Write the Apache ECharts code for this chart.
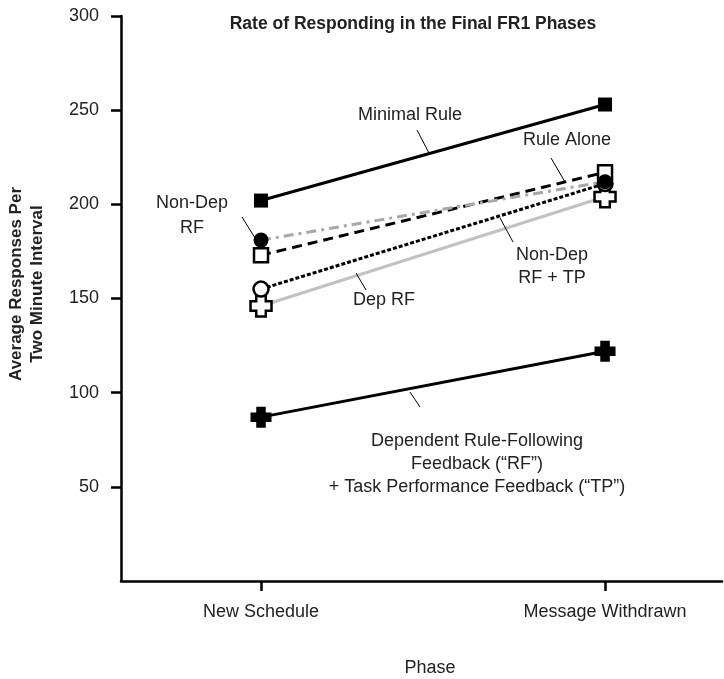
<!DOCTYPE html>
<html>
<head>
<meta charset="utf-8">
<script src="https://cdn.jsdelivr.net/npm/echarts@6/dist/echarts.min.js"></script>
<style>
  html, body { margin: 0; padding: 0; background: #fff; }
  #chart { width: 724px; height: 679px; }
</style>
</head>
<body>
<div id="chart"></div>
<script>
// Phases on the x axis and their positions on the value scale
const phases = ['New Schedule', 'Message Withdrawn'];
const phasePos = [1, 2];
const yTicks = [50, 100, 150, 200, 250, 300];

// Average responses per two-minute interval, per condition
const minimalRule = [202, 253];
const ruleAlone = [173, 217];
const nonDepRF = [181, 212];
const nonDepRFTP = [155, 211];
const depRF = [146, 204];
const depRFTP = [87, 122];

const FONT = 'Liberation Sans, Arial, Helvetica, sans-serif';
const TXT = '#222';
const CROSS = 'path://M6,0 H16 V6 H22 V16 H16 V22 H6 V16 H0 V6 H6 Z';

const pts = arr => phasePos.map((x, i) => [x, arr[i]]);

function lineSeries(name, arr, lineStyle, symbol, size, filled, z) {
  return {
    name, type: 'line', data: pts(arr), z,
    symbol, symbolSize: size,
    lineStyle: Object.assign({ width: 3, color: '#000' }, lineStyle),
    itemStyle: filled
      ? { color: '#000', borderColor: '#000', borderWidth: 0 }
      : { color: '#fff', borderColor: '#000', borderWidth: 2.5 },
    emphasis: { disabled: true },
    animation: false
  };
}

const chart = echarts.init(document.getElementById('chart'));

function label(x, y, text, lh) {
  return { type: 'text', x, y, z: 100,
    style: { text, fontFamily: FONT, fontSize: 18, fill: TXT, align: 'center', verticalAlign: 'middle', lineHeight: lh || 23 } };
}
function leader(x1, y1, x2, y2) {
  return { type: 'line', shape: { x1, y1, x2, y2 }, style: { stroke: '#000', lineWidth: 1 }, z: 99 };
}

chart.setOption({
  animation: false,
  backgroundColor: '#fff',
  grid: { left: 121, right: 2, top: 16, bottom: 98 },
  xAxis: {
    type: 'value', min: 0.593, max: 2.34,
    axisLine: { onZero: false, lineStyle: { color: '#000', width: 2.5 } },
    axisTick: { show: true, customValues: phasePos, length: 10, lineStyle: { color: '#000', width: 2.5 } },
    axisLabel: {
      customValues: phasePos, margin: 22,
      formatter: v => phases[phasePos.indexOf(v)] || '',
      fontFamily: FONT, fontSize: 18, color: TXT
    },
    splitLine: { show: false }
  },
  yAxis: {
    type: 'value', min: 0, max: 300, interval: 50,
    axisLine: { show: true, lineStyle: { color: '#000', width: 2.5 } },
    axisTick: { show: true, customValues: yTicks, length: 10, lineStyle: { color: '#000', width: 2.5 } },
    axisLabel: { customValues: yTicks, margin: 22, fontFamily: FONT, fontSize: 18, color: TXT },
    splitLine: { show: false }
  },
  series: [
    lineSeries('Dependent RF + TP', depRFTP, {}, CROSS, 21, true, 3),
    lineSeries('Dep RF', depRF, { color: '#c2c2c2' }, CROSS, 21, false, 3),
    lineSeries('Non-Dep RF + TP', nonDepRFTP, { type: [4, 2] }, 'circle', 15, false, 4),
    lineSeries('Rule Alone', ruleAlone, { type: [10, 6] }, 'rect', 14, false, 5),
    lineSeries('Non-Dep RF', nonDepRF, { color: '#a8a8a8', type: [10, 5, 3, 5] }, 'circle', 15, true, 6),
    lineSeries('Minimal Rule', minimalRule, {}, 'rect', 14, true, 7)
  ],
  graphic: [
    { type: 'text', x: 413, y: 24, z: 100,
      style: { text: 'Rate of Responding in the Final FR1 Phases', fontFamily: FONT, fontSize: 17.5, fontWeight: 'bold',
               fill: TXT, align: 'center', verticalAlign: 'middle' } },
    { type: 'text', x: 27, y: 284, rotation: Math.PI / 2, z: 100,
      style: { text: 'Average Responses Per\nTwo Minute Interval', fontFamily: FONT, fontSize: 17, fontWeight: 'bold',
               fill: TXT, align: 'center', verticalAlign: 'middle', lineHeight: 21 } },
    { type: 'text', x: 430, y: 668, z: 100,
      style: { text: 'Phase', fontFamily: FONT, fontSize: 18, fill: TXT, align: 'center', verticalAlign: 'middle' } },
    label(410, 115, 'Minimal Rule'),
    leader(417, 130, 429, 153),
    label(567, 140, 'Rule Alone'),
    leader(551, 158, 565, 182),
    label(192, 216, 'Non-Dep\nRF', 25),
    leader(242, 217, 255, 238),
    label(552, 267, 'Non-Dep\nRF + TP'),
    leader(513, 242, 500, 218),
    label(384, 300, 'Dep RF'),
    leader(366, 290, 356, 273),
    label(477, 464, 'Dependent Rule-Following\nFeedback (\u201cRF\u201d)\n+ Task Performance Feedback (\u201cTP\u201d)'),
    leader(420, 407, 410, 392)
  ]
});
</script>
</body>
</html>
